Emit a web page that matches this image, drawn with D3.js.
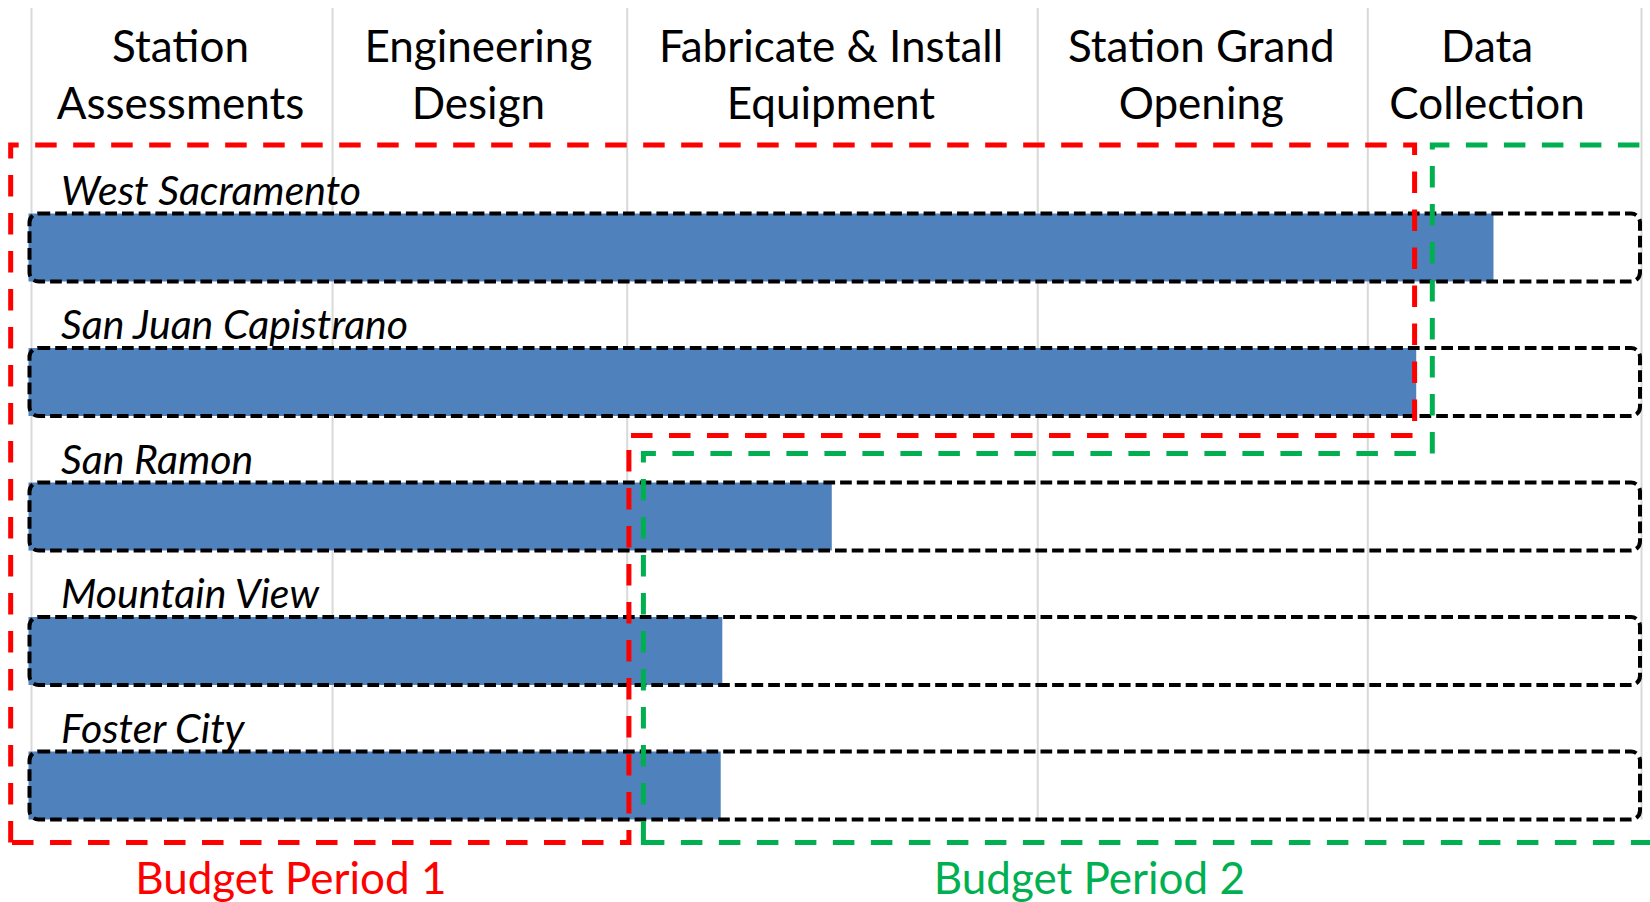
<!DOCTYPE html>
<meta charset="utf-8">
<style>
body { margin: 0; background: #fff; }
text { font-family: Lato, "Open Sans", sans-serif; }
.grid line { stroke: #d9d9d9; stroke-width: 2px; }
.phase { font-size: 44px; fill: #000; text-anchor: middle; }
.station { font-size: 41px; font-style: italic; fill: #000; }
.bar { fill: #4f81bd; }
.box { fill: none; stroke: #000; stroke-width: 4px; stroke-dasharray: 11.7,5; }
.period { fill: none; stroke-width: 5px; stroke-dasharray: 21.5,16.5; }
.period-label { font-size: 44px; text-anchor: middle; }
</style>
<body>
<script src="https://cdnjs.cloudflare.com/ajax/libs/d3/7.8.5/d3.min.js"></script>
<script>

var width = 1650,
    height = 902;

// project phases (header) and where each one ends on the timeline (0-100)
var phases = [["Station", "Assessments"], ["Engineering", "Design"], ["Fabricate & Install", "Equipment"], ["Station Grand", "Opening"], ["Data", "Collection"]];
var phaseEnds = [18.7, 37.0, 62.5, 83.0, 98.0];

// stations and their progress along the timeline
var stations = ["West Sacramento", "San Juan Capistrano", "San Ramon", "Mountain View", "Foster City"];
var progress = [90.9, 86.1, 49.8, 43.0, 42.9];

// budget periods: timeline span of the upper rows (first two stations) and of the lower rows
var periods = ["Budget Period 1", "Budget Period 2"];
var periodUpper = [[-1.2, 86.0], [87.1, 104]];
var periodLower = [[-1.2, 37.2], [38.1, 104]];
var periodColors = ["#ff0000", "#00b050"];

var x = d3.scaleLinear()
    .domain([0, 100])
    .range([30, 1640]);

var y = d3.scaleBand()
    .domain(stations)
    .range([213.5, 213.5 + 4 * 134.5 + 68])
    .paddingInner(1 - 68 / 134.5)
    .paddingOuter(0);

var svg = d3.select("body").append("svg")
    .attr("width", width)
    .attr("height", height);

var gridBottom = y(stations[stations.length - 1]) + y.bandwidth();

// vertical lines between phases
var bounds = [0].concat(phaseEnds.slice(0, -1), [100]);
svg.append("g")
    .attr("class", "grid")
  .selectAll("line")
    .data(bounds)
  .enter().append("line")
    .attr("x1", function(d) { return x(d) + 1.5; })
    .attr("x2", function(d) { return x(d) + 1.5; })
    .attr("y1", 8)
    .attr("y2", gridBottom);

// phase headers
var phaseStarts = [0].concat(phaseEnds.slice(0, -1));
var header = svg.append("g").selectAll("text")
    .data(phases)
  .enter().append("text")
    .attr("class", "phase")
    .attr("transform", function(d, i) { return "translate(" + x((phaseStarts[i] + phaseEnds[i]) / 2) + ",0)"; });
header.selectAll("tspan")
    .data(function(d) { return d; })
  .enter().append("tspan")
    .attr("x", 0)
    .attr("y", function(d, i) { return 62 + i * 57; })
    .text(function(d) { return d; });

// station names
svg.append("g").selectAll("text")
    .data(stations)
  .enter().append("text")
    .attr("class", "station")
    .attr("x", 61)
    .attr("y", function(d) { return y(d) - 9; })
    .text(function(d) { return d; });

// progress bars
svg.append("g").selectAll("rect")
    .data(stations)
  .enter().append("rect")
    .attr("class", "bar")
    .attr("x", x(0) - 1.5)
    .attr("y", function(d) { return y(d); })
    .attr("width", function(d, i) { return x(progress[i]) - x(0) + 1.5; })
    .attr("height", y.bandwidth());

// dashed outline of the whole track
svg.append("g").selectAll("rect")
    .data(stations)
  .enter().append("rect")
    .attr("class", "box")
    .attr("x", x(0) - 0.5)
    .attr("y", function(d) { return y(d); })
    .attr("width", x(100) - x(0) + 0.5)
    .attr("height", y.bandwidth())
    .attr("rx", 9)
    .attr("ry", 9);

// budget period outlines
var splitRow = stations[1];
var topY = y(stations[0]) - 68.5,
    bottomY = gridBottom + 23,
    notchY = [y(splitRow) + y.bandwidth() + 19.5, y(splitRow) + y.bandwidth() + 37.5];

svg.append("g").selectAll("path")
    .data(periods)
  .enter().append("path")
    .attr("class", "period")
    .attr("stroke", function(d, i) { return periodColors[i]; })
    .attr("d", function(d, i) {
      var u = periodUpper[i], l = periodLower[i], n = notchY[i];
      return d3.line()([
        [x(l[0]), bottomY], [x(l[0]), n], [x(u[0]), n], [x(u[0]), topY],
        [x(u[1]), topY], [x(u[1]), n], [x(l[1]), n], [x(l[1]), bottomY]
      ]) + "Z";
    });

// budget period labels
var labelAt = [16.2, 65.8];
svg.append("g").selectAll("text")
    .data(periods)
  .enter().append("text")
    .attr("class", "period-label")
    .attr("x", function(d, i) { return x(labelAt[i]); })
    .attr("y", 894)
    .attr("fill", function(d, i) { return periodColors[i]; })
    .text(function(d) { return d; });

</script>
